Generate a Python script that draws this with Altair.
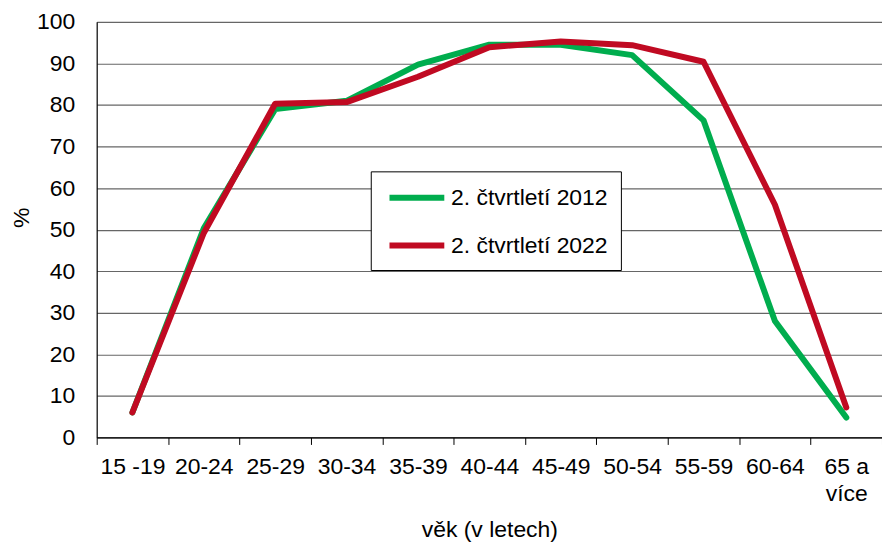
import altair as alt
import pandas as pd

categories = ["15 -19", "20-24", "25-29", "30-34", "35-39", "40-44",
              "45-49", "50-54", "55-59", "60-64", "65 a více"]
series_names = ["2. čtvrtletí 2012", "2. čtvrtletí 2022"]
values_2012 = [6.0, 50.3, 79.0, 81.0, 89.7, 94.5, 94.5, 92.0, 76.3, 28.0, 4.8]
values_2022 = [6.0, 49.2, 80.3, 80.7, 86.8, 93.9, 95.3, 94.4, 90.4, 56.0, 7.2]
colors = ["#00AD4E", "#C00A22"]
y_ticks = [0, 10, 20, 30, 40, 50, 60, 70, 80, 90, 100]

rows = []
for name, vals in zip(series_names, [values_2012, values_2022]):
    for i, (c, v) in enumerate(zip(categories, vals)):
        rows.append({"vek": c, "hodnota": v, "rada": name, "order": i})
df = pd.DataFrame(rows)

FONT = "Liberation Sans"

chart = alt.Chart(df).mark_line(strokeWidth=6, strokeCap="round", strokeJoin="round").encode(
    x=alt.X("vek:N", sort=categories, bandPosition=0.5,
            scale=alt.Scale(type="band", paddingInner=0, paddingOuter=0),
            axis=alt.Axis(title="věk (v letech)", labelAngle=0, tickBand="extent",
                          tickSize=7, tickColor="#000000", domainColor="#000000",
                          labelPadding=11, labelFontSize=23, labelFont=FONT,
                          labelColor="#000000", labelLineHeight=27,
                          labelExpr="datum.value == '65 a více' ? ['65 a', 'více'] : datum.value",
                          titleFont=FONT, titleFontSize=23, titleFontWeight="normal",
                          titleColor="#000000", titleBaseline="alphabetic", titleY=99,
                          grid=False)),
    y=alt.Y("hodnota:Q", scale=alt.Scale(domain=[0, 100], nice=False),
            axis=alt.Axis(title="%", values=y_ticks, ticks=False, labelPadding=22,
                          labelFontSize=23, labelFont=FONT, labelColor="#000000",
                          domainColor="#000000", gridColor="#666666", gridWidth=1.2,
                          titleFont=FONT, titleFontSize=23, titleFontWeight="normal",
                          titleColor="#000000", titleX=-75, titleY=196,
                          titleAngle=-90, titleBaseline="middle", titleAlign="center")),
    color=alt.Color("rada:N", scale=alt.Scale(domain=series_names, range=colors),
                    title=None,
                    legend=alt.Legend(orient="none", legendX=275, legendY=150,
                                      symbolType="M-0.7,0L4.3,0", symbolSize=484,
                                      symbolStrokeWidth=6, labelFontSize=23,
                                      labelFont=FONT, labelColor="#000000",
                                      labelOffset=40, rowPadding=22, padding=12.5,
                                      fillColor="#FFFFFF", strokeColor="#000000")),
    order="order:Q",
).properties(
    width=788, height=417,
    autosize=alt.AutoSizeParams(type="none"),
    padding={"left": 89, "top": 13, "right": 0, "bottom": 104},
).configure_view(stroke=None).configure_axis(domainWidth=1.2)

chart.save("out.html", embed_options={"renderer": "svg", "actions": False})
